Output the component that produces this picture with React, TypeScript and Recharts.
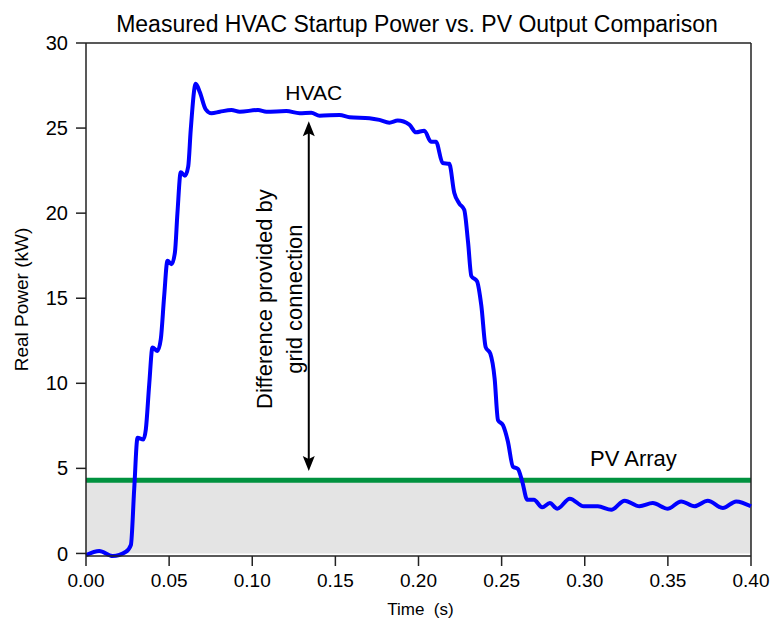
import React from 'react';
import {
  ComposedChart,
  Line,
  Area,
  XAxis,
  YAxis,
  ReferenceLine,
  ReferenceDot,
} from 'recharts';

const times = [
  0.0, 0.008, 0.016, 0.024, 0.027, 0.029, 0.031, 0.0345, 0.036, 0.038,
  0.04, 0.043, 0.045, 0.047, 0.049, 0.0515, 0.0535, 0.055, 0.057, 0.0595,
  0.0615, 0.063, 0.066, 0.0685, 0.072, 0.0755, 0.0805, 0.0875, 0.0925, 0.1035,
  0.1085, 0.1205, 0.1285, 0.1355, 0.1405, 0.1525, 0.1585, 0.1705, 0.1765, 0.1825,
  0.1875, 0.1945, 0.1985, 0.2035, 0.2075, 0.2105, 0.2145, 0.2185, 0.2215, 0.2245,
  0.2275, 0.2298, 0.2318, 0.2352, 0.2378, 0.2404, 0.2432, 0.2458, 0.2478, 0.2508,
  0.2538, 0.2568, 0.2598, 0.2624, 0.2654, 0.2694, 0.2744, 0.279, 0.2834, 0.291,
  0.2994, 0.3079, 0.316, 0.324, 0.3329, 0.3409, 0.35, 0.358, 0.366, 0.374,
  0.3831, 0.3911, 0.4,
];
const hvacPower = [
  -0.1, 0.15, -0.15, 0.1, 0.5, 3.8, 6.8, 6.7, 7.3, 9.9,
  12.1, 11.9, 12.6, 15.1, 17.2, 17.0, 17.7, 20.0, 22.4, 22.2,
  22.75, 24.9, 27.6, 27.1, 26.1, 25.87, 25.96, 26.06, 25.96, 26.06,
  25.96, 26.0, 25.87, 25.9, 25.73, 25.77, 25.64, 25.58, 25.48, 25.32,
  25.44, 25.2, 24.75, 24.85, 24.2, 24.2, 22.95, 22.9, 21.2, 20.57,
  20.2, 18.3, 16.3, 16.0, 14.56, 12.13, 11.74, 10.27, 7.84, 7.54,
  6.57, 5.1, 4.97, 4.23, 3.16, 3.16, 2.71, 2.96, 2.63, 3.22,
  2.77, 2.77, 2.57, 3.1, 2.77, 2.96, 2.63, 3.06, 2.77, 3.1,
  2.67, 3.06, 2.77,
];
const pvOutput = 4.3;

const xTicks = [0, 0.05, 0.1, 0.15, 0.2, 0.25, 0.3, 0.35, 0.4];
const yTicks = [0, 5, 10, 15, 20, 25, 30];

// grid-supplied gap marked on the chart
const gapTime = 0.134;
const gapFrom = 4.85;
const gapTo = 25.4;

const data = times.map((t, i) => ({ time: t, hvac: hvacPower[i], pv: pvOutput }));

const FONT = '"Liberation Sans", Arial, Helvetica, sans-serif';
const AXIS = '#222';

const GapArrow = (props: any) => {
  const { x1, y1, y2 } = props;
  const top = Math.min(y1, y2);
  const bot = Math.max(y1, y2);
  const mid = (top + bot) / 2 + 3;
  return (
    <g>
      <line x1={x1} y1={top + 10} x2={x1} y2={bot - 10} stroke="#000" strokeWidth={2} />
      <path d={`M${x1},${top} L${x1 - 6},${top + 15} L${x1},${top + 12} L${x1 + 6},${top + 15} Z`} fill="#000" />
      <path d={`M${x1},${bot} L${x1 - 6},${bot - 15} L${x1},${bot - 12} L${x1 + 6},${bot - 15} Z`} fill="#000" />
      <text
        transform={`translate(${x1 - 37},${mid}) rotate(-90)`}
        textAnchor="middle"
        fontFamily={FONT}
        fontSize={22}
        fill="#000"
      >
        Difference provided by
      </text>
      <text
        transform={`translate(${x1 - 7},${mid}) rotate(-90)`}
        textAnchor="middle"
        fontFamily={FONT}
        fontSize={22}
        fill="#000"
      >
        grid connection
      </text>
    </g>
  );
};

const YTitle = ({ viewBox }: any) => (
  <text
    transform={`translate(${viewBox.x + 28},${viewBox.y + viewBox.height / 2}) rotate(-90)`}
    textAnchor="middle"
    fontFamily={FONT}
    fontSize={19}
    fill="#000"
  >
    Real Power (kW)
  </text>
);

const XTitle = ({ viewBox }: any) => (
  <text
    x={viewBox.x + viewBox.width / 2 + 2}
    y={viewBox.y + 59}
    textAnchor="middle"
    fontFamily={FONT}
    fontSize={17}
    fill="#000"
    style={{ whiteSpace: 'pre' }}
  >
    {'Time  (s)'}
  </text>
);

export default function App() {
  return (
    <div style={{ position: 'absolute', left: 0, top: 0, width: 776, height: 620, background: '#fff' }}>
      <ComposedChart
        width={776}
        height={620}
        data={data}
        margin={{ top: 43, right: 25, bottom: 0, left: 0 }}
      >
        <text x={417} y={32} textAnchor="middle" fontFamily={FONT} fontSize={23} fill="#000">
          Measured HVAC Startup Power vs. PV Output Comparison
        </text>
        <XAxis
          dataKey="time"
          type="number"
          domain={[0, 0.4]}
          ticks={xTicks}
          tickFormatter={(v: number) => v.toFixed(2)}
          height={64}
          tickSize={10}
          tickMargin={8}
          stroke={AXIS}
          strokeWidth={1.5}
          tick={{ fill: '#000', fontSize: 19, fontFamily: FONT }}
          label={<XTitle />}
        />
        <YAxis
          type="number"
          domain={[0, 30]}
          ticks={yTicks}
          width={86}
          tickSize={10}
          tickMargin={8}
          stroke={AXIS}
          strokeWidth={1.5}
          tick={{ fill: '#000', fontSize: 20, fontFamily: FONT }}
          label={<YTitle />}
        />
        <ReferenceLine y={30} stroke={AXIS} strokeWidth={1.5} />
        <ReferenceLine x={0.4} stroke={AXIS} strokeWidth={1.5} />
        <Area
          type="linear"
          dataKey="pv"
          stroke="#00923f"
          strokeWidth={5}
          fill="#e4e4e4"
          fillOpacity={1}
          isAnimationActive={false}
          dot={false}
          activeDot={false}
        />
        <Line
          type="monotone"
          dataKey="hvac"
          stroke="#0000ff"
          strokeWidth={4}
          dot={false}
          activeDot={false}
          isAnimationActive={false}
        />
        <ReferenceLine
          segment={[
            { x: gapTime, y: gapFrom },
            { x: gapTime, y: gapTo },
          ]}
          shape={<GapArrow />}
        />
        <ReferenceDot
          x={0.137}
          y={27.1}
          r={0}
          fill="none"
          stroke="none"
          label={{ value: 'HVAC', position: 'center', fontSize: 21, fontFamily: FONT, fill: '#000' }}
        />
        <ReferenceDot
          x={0.3293}
          y={5.57}
          r={0}
          fill="none"
          stroke="none"
          label={{ value: 'PV Array', position: 'center', fontSize: 22, fontFamily: FONT, fill: '#000' }}
        />
      </ComposedChart>
    </div>
  );
}
